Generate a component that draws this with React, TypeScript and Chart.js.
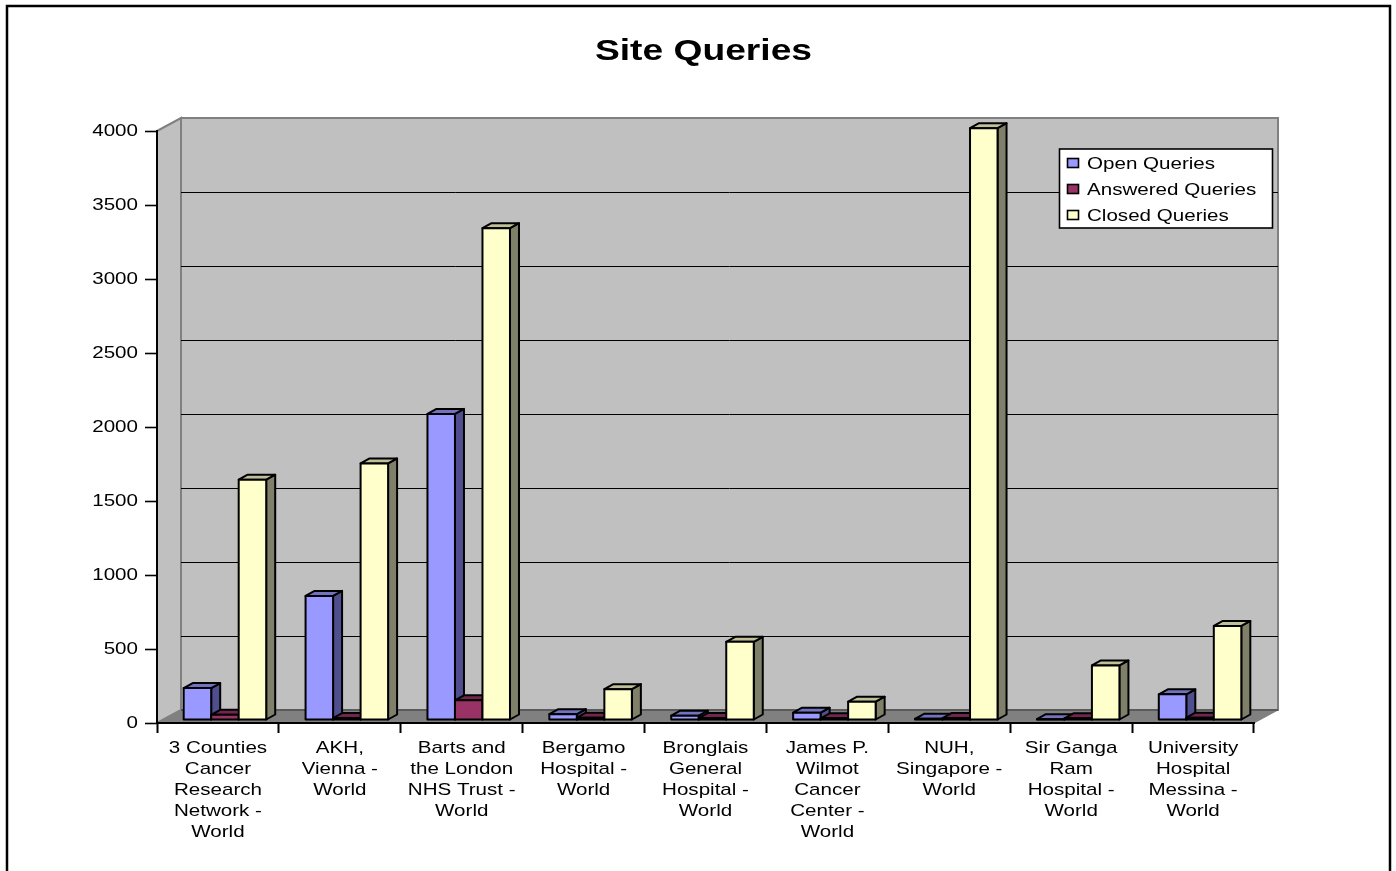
import React, { useEffect, useRef } from "react";
import { Chart, registerables } from "chart.js";

Chart.register(...registerables);

const categories: string[][] = [
  ["3 Counties", "Cancer", "Research", "Network -", "World"],
  ["AKH,", "Vienna -", "World"],
  ["Barts and", "the London", "NHS Trust -", "World"],
  ["Bergamo", "Hospital -", "World"],
  ["Bronglais", "General", "Hospital -", "World"],
  ["James P.", "Wilmot", "Cancer", "Center -", "World"],
  ["NUH,", "Singapore -", "World"],
  ["Sir Ganga", "Ram", "Hospital -", "World"],
  ["University", "Hospital", "Messina -", "World"],
];
const openQueries = [212, 835, 2065, 36, 26, 46, 5, 2, 170];
const answeredQueries = [32, 10, 130, 12, 10, 8, 10, 8, 12];
const closedQueries = [1620, 1730, 3320, 205, 525, 120, 3995, 365, 632];

const FONT = "'Liberation Sans', Arial, sans-serif";
const TEXT_STRETCH = 1.24;
const WALL = { dx: 24, dy: -13 };
const DEPTH = { dx: 9, dy: -5 };
const SHIFT = { dx: 7, dy: -3.5 };

const seriesStyles = [
  { front: "#9999FF", side: "#4F4F8F", top: "#7272BF" },
  { front: "#993366", side: "#5F2040", top: "#73264D" },
  { front: "#FFFFCC", side: "#80806A", top: "#BFBF99" },
];

const chart3d = {
  id: "chart3d",
  beforeDraw(chart: any) {
    const { ctx, chartArea: a, scales } = chart;
    const { width, height } = chart;
    ctx.save();
    ctx.fillStyle = "#fff";
    ctx.fillRect(0, 0, width, height);
    ctx.strokeStyle = "#000";
    ctx.lineWidth = 2.5;
    ctx.strokeRect(7, 6, 1383, height + 20);

    const poly = (pts: number[][], fill: string, stroke?: string, lw = 2) => {
      ctx.beginPath();
      pts.forEach((p, i) => (i ? ctx.lineTo(p[0], p[1]) : ctx.moveTo(p[0], p[1])));
      ctx.closePath();
      ctx.fillStyle = fill;
      ctx.fill();
      if (stroke) {
        ctx.strokeStyle = stroke;
        ctx.lineWidth = lw;
        ctx.stroke();
      }
    };
    const { left: l, right: r, top: t, bottom: b } = a;
    const { dx, dy } = WALL;
    poly([[l + dx, t + dy], [r + dx, t + dy], [r + dx, b + dy], [l + dx, b + dy]], "#C0C0C0", "#808080");
    poly([[l, t], [l + dx, t + dy], [l + dx, b + dy], [l, b]], "#C0C0C0", "#808080");
    poly([[l, b], [l + dx, b + dy], [r + dx, b + dy], [r, b]], "#808080", "#808080", 1);

    ctx.strokeStyle = "#000";
    ctx.lineWidth = 1;
    scales.y.ticks.forEach((tk: any) => {
      if (tk.value === 0 || tk.value === 4000) return;
      const y = Math.round(scales.y.getPixelForValue(tk.value) + dy) + 0.5;
      ctx.beginPath();
      ctx.moveTo(l + dx, y);
      ctx.lineTo(r + dx, y);
      ctx.stroke();
    });
    ctx.strokeStyle = "#5A5A5A";
    ctx.lineWidth = 2;
    ctx.beginPath();
    ctx.moveTo(l + dx, b + dy);
    ctx.lineTo(r + dx, b + dy);
    ctx.stroke();
    ctx.restore();
  },
  afterLayout(chart: any) {
    if (chart.titleBlock) {
      chart.titleBlock.left = 11;
      chart.titleBlock.right = 1396;
    }
  },
  beforeDatasetsDraw(chart: any) {
    const { ctx } = chart;
    ctx.save();
    ctx.translate(SHIFT.dx, SHIFT.dy);
    chart.data.datasets.forEach((_: any, i: number) => {
      const st = seriesStyles[i];
      chart.getDatasetMeta(i).data.forEach((el: any) => {
        const { x, y, width: w } = el.getProps(["x", "y", "width"], true);
        const left = x - w / 2;
        const right = x + w / 2;
        const base = chart.scales.y.getPixelForValue(0);
        const face = (pts: number[][], fill: string) => {
          ctx.beginPath();
          pts.forEach((p, k) => (k ? ctx.lineTo(p[0], p[1]) : ctx.moveTo(p[0], p[1])));
          ctx.closePath();
          ctx.fillStyle = fill;
          ctx.fill();
          ctx.strokeStyle = "#000";
          ctx.lineWidth = 2;
          ctx.lineJoin = "round";
          ctx.stroke();
        };
        const { dx, dy } = DEPTH;
        face([[right, y], [right + dx, y + dy], [right + dx, base + dy], [right, base]], st.side);
        face([[left, y], [left + dx, y + dy], [right + dx, y + dy], [right, y]], st.top);
        face([[left, y], [right, y], [right, base], [left, base]], st.front);
      });
    });
    ctx.restore();
    return false;
  },
  afterDraw(chart: any) {
    const { ctx } = chart;
    ctx.save();
    const x0 = 1059.5, y0 = 149, w = 213, h = 79;
    ctx.fillStyle = "#fff";
    ctx.fillRect(x0, y0, w, h);
    ctx.strokeStyle = "#000";
    ctx.lineWidth = 1.6;
    ctx.strokeRect(x0, y0, w, h);
    chart.data.datasets.forEach((ds: any, i: number) => {
      const cy = 163 + i * 26;
      ctx.fillStyle = seriesStyles[i].front;
      ctx.fillRect(1067.5, cy - 4.5, 11, 9);
      ctx.strokeStyle = "#000";
      ctx.lineWidth = 1.6;
      ctx.strokeRect(1067.5, cy - 4.5, 11, 9);
      ctx.fillStyle = "#000";
      ctx.font = `16.6px ${FONT}`;
      ctx.textAlign = "left";
      ctx.textBaseline = "middle";
      ctx.fillText(ds.label, 1087, cy + 1.5);
    });
    ctx.restore();
  },
};

export default function App() {
  const ref = useRef<HTMLCanvasElement>(null);
  useEffect(() => {
    const canvas = ref.current!;
    const c: any = canvas.getContext("2d");
    const origFill = c.fillText.bind(c);
    // The reference is horizontally stretched: widen each text run about its anchor.
    c.fillText = (t: string, x: number, y: number, m?: number) => {
      c.save();
      c.translate(x, y);
      c.scale(TEXT_STRETCH, 1);
      if (m === undefined) origFill(t, 0, 0);
      else origFill(t, 0, 0, m);
      c.restore();
    };
    const tickFont = { family: FONT, size: 16.6, lineHeight: 21 / 16.6 };
    const chart = new Chart(canvas, {
      type: "bar",
      data: {
        labels: categories as any,
        datasets: [
          { label: "Open Queries", data: openQueries, backgroundColor: seriesStyles[0].front },
          { label: "Answered Queries", data: answeredQueries, backgroundColor: seriesStyles[1].front },
          { label: "Closed Queries", data: closedQueries, backgroundColor: seriesStyles[2].front },
        ],
      },
      options: {
        responsive: false,
        animation: false,
        devicePixelRatio: 1,
        layout: { padding: { left: 0, right: 142, top: 0, bottom: 0 } },
        datasets: { bar: { categoryPercentage: 0.677, barPercentage: 1 } },
        plugins: {
          legend: { display: false },
          tooltip: { enabled: false },
          title: {
            display: true,
            text: "Site Queries",
            color: "#000",
            font: { family: FONT, size: 30, weight: "bold" },
            padding: { top: 34, bottom: 61 },
          },
        },
        scales: {
          x: {
            offset: true,
            afterFit: (s: any) => { s.height = 148; },
            grid: { drawOnChartArea: false, drawTicks: true, tickLength: 10, tickColor: "#000", tickWidth: 2, offset: true },
            border: { color: "#000", width: 2 },
            ticks: { color: "#000", font: tickFont, autoSkip: false, maxRotation: 0, minRotation: 0, padding: 5 },
          },
          y: {
            min: 0,
            max: 4000,
            afterFit: (s: any) => { s.width = 157; },
            grid: { drawOnChartArea: false, drawTicks: true, tickLength: 12, tickColor: "#000", tickWidth: 1.6 },
            border: { color: "#000", width: 2 },
            ticks: {
              color: "#000",
              font: { family: FONT, size: 16.6 },
              stepSize: 500,
              padding: 7,
              callback: (v: any) => String(v),
            },
          },
        },
      },
      plugins: [chart3d as any],
    } as any);
    return () => chart.destroy();
  }, []);
  return (
    <div style={{ position: "absolute", left: 0, top: 0, width: 1396, height: 871, overflow: "hidden" }}>
      <canvas ref={ref} width={1396} height={871} style={{ width: 1396, height: 871, display: "block" }} />
    </div>
  );
}
